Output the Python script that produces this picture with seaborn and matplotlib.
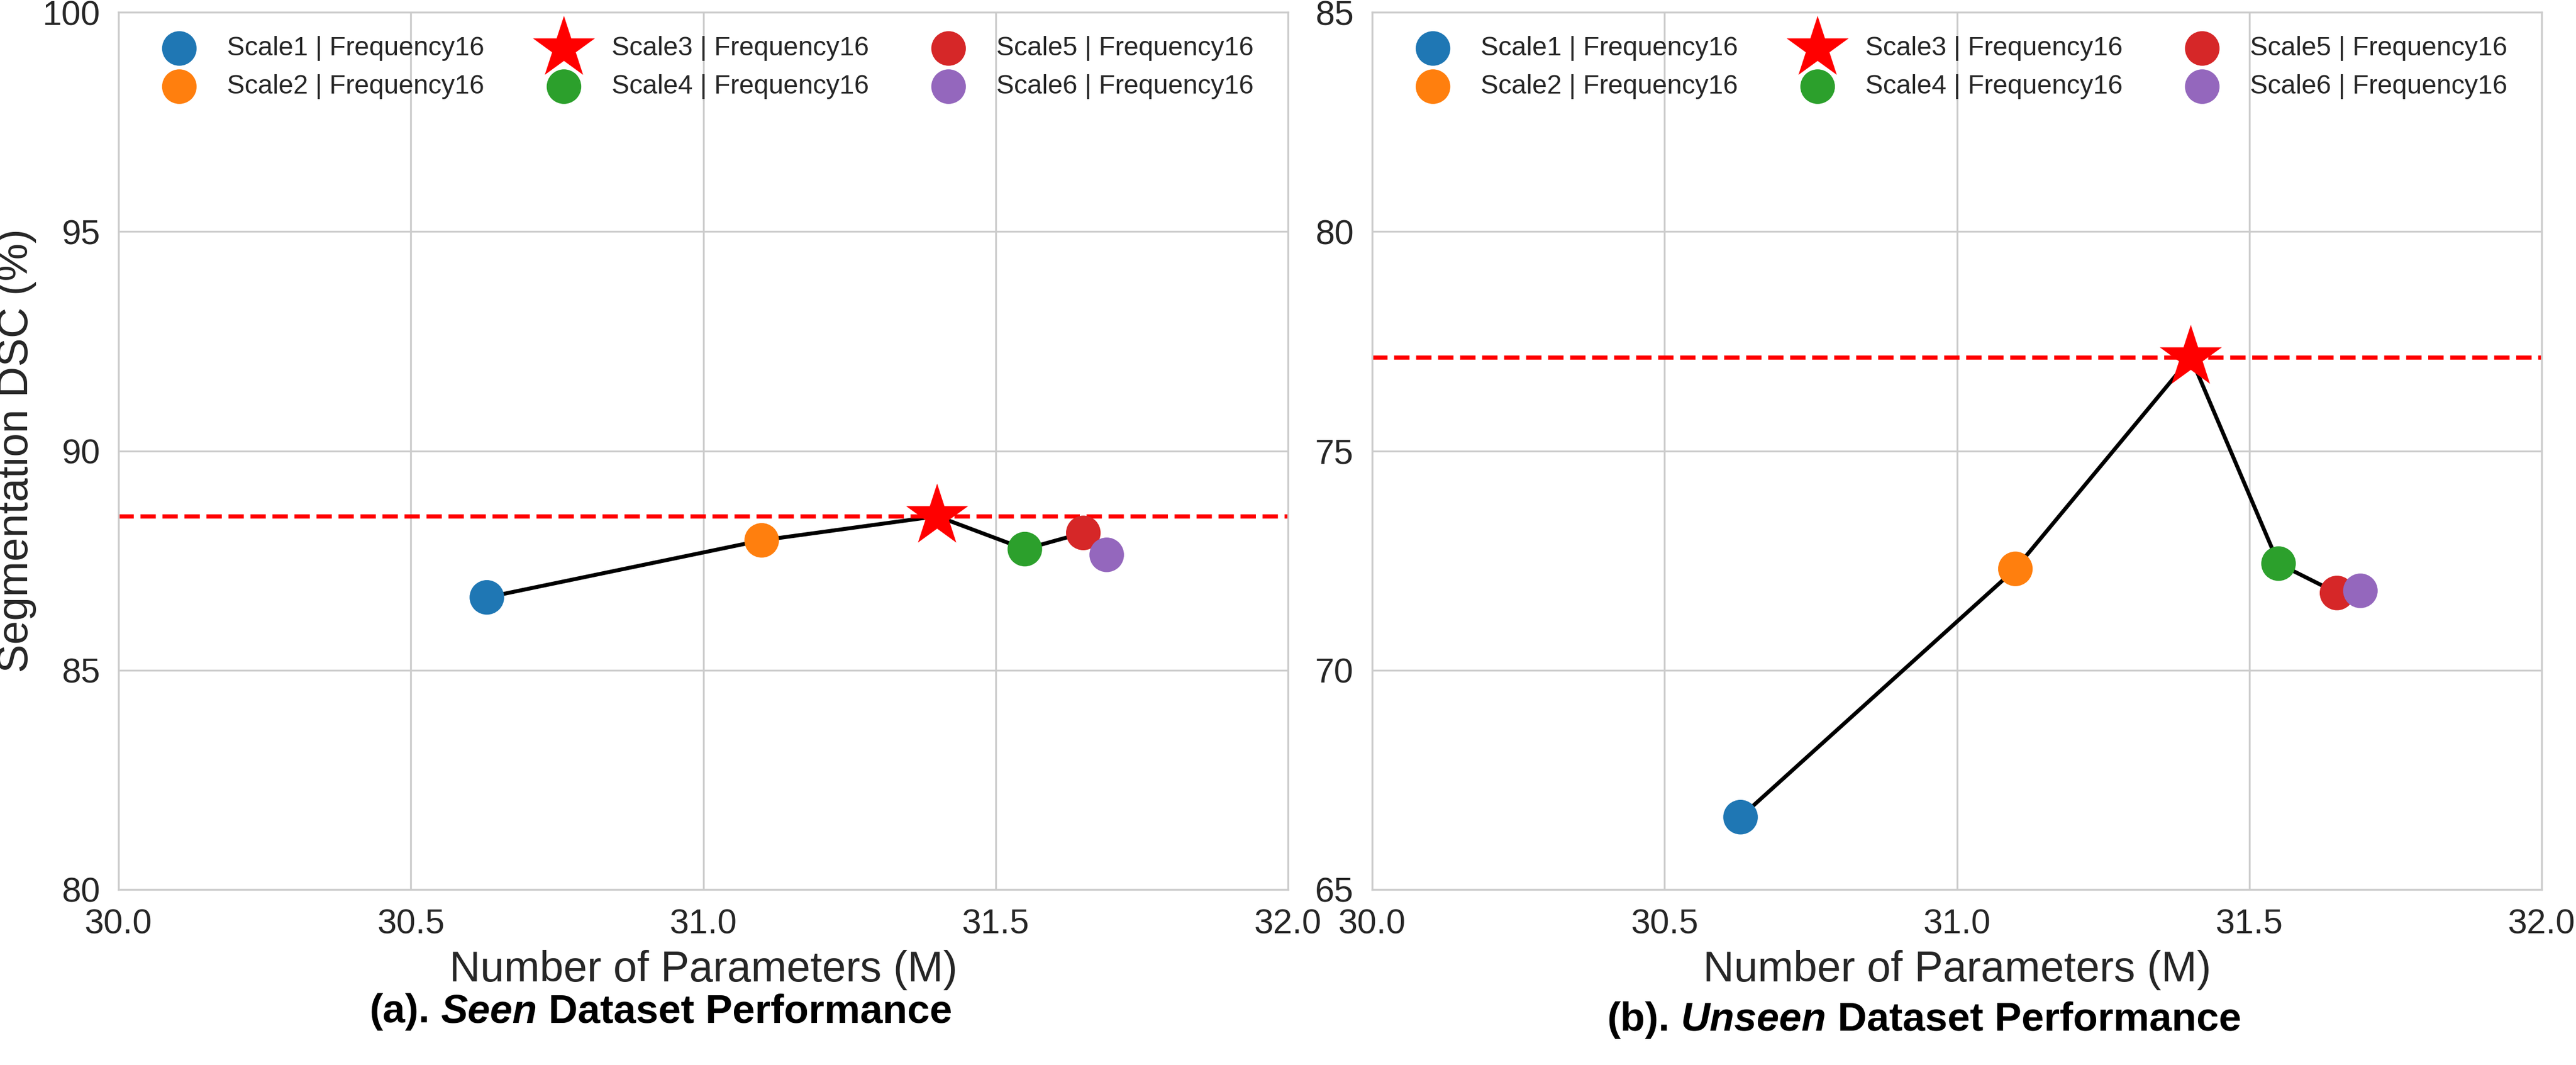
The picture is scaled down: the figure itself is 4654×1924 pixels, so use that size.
import numpy as np
import pandas as pd
import matplotlib
matplotlib.use("Agg")
import matplotlib.pyplot as plt
import seaborn as sns

# ---------------- data ----------------
labels = ["Scale1 | Frequency16", "Scale2 | Frequency16", "Scale3 | Frequency16",
          "Scale4 | Frequency16", "Scale5 | Frequency16", "Scale6 | Frequency16"]
params_m = [30.63, 31.10, 31.40, 31.55, 31.65, 31.69]
seen_dsc = [86.66, 87.96, 88.51, 87.76, 88.13, 87.63]
unseen_dsc = [66.65, 72.31, 77.13, 72.43, 71.76, 71.81]
colors = ["#1f77b4", "#ff7f0e", "red", "#2ca02c", "#d62728", "#9467bd"]
markers = ["o", "o", "*", "o", "o", "o"]
best_idx = 2

x_ticks = [30.0, 30.5, 31.0, 31.5, 32.0]
seen_yticks = [80, 85, 90, 95, 100]
unseen_yticks = [65, 70, 75, 80, 85]

panel_titles = [[("(a).", "normal"), ("Seen", "italic"), ("Dataset Performance", "normal")],
                [("(b).", "normal"), ("Unseen", "italic"), ("Dataset Performance", "normal")]]

# ---------------- style ----------------
sns.set_style("whitegrid")
plt.rcParams["font.family"] = ["Liberation Sans", "DejaVu Sans"]

W, H = 4654, 1924
DPI = 300
fig = plt.figure(figsize=(W / DPI, H / DPI), dpi=DPI)

def px_axes(l, t, r, b):
    return [l / W, 1 - b / H, (r - l) / W, (b - t) / H]

ax1 = fig.add_axes(px_axes(214, 22, 2327, 1607))
ax2 = fig.add_axes(px_axes(2479, 22, 4592, 1607))

def draw_panel(ax, yvals, yticks):
    df = pd.DataFrame({"x": params_m, "y": yvals, "label": labels})
    sns.lineplot(data=df, x="x", y="y", color="black", linewidth=1.7,
                 sort=False, estimator=None, ax=ax, zorder=2)
    ax.axhline(yvals[best_idx], color="red", linestyle="--", linewidth=1.8, zorder=2.5)
    for i in range(len(labels)):
        s = 800 if markers[i] == "*" else 225
        sns.scatterplot(x=[params_m[i]], y=[yvals[i]], color=colors[i], marker=markers[i],
                        s=s, linewidth=0, edgecolor="none", label=labels[i],
                        ax=ax, zorder=3)
    ax.set_xlim(30.0, 32.0)
    ax.set_ylim(yticks[0], yticks[-1])
    ax.set_xticks(x_ticks)
    ax.set_xticklabels([f"{v:.1f}" for v in x_ticks])
    ax.set_yticks(yticks)
    ax.tick_params(axis="both", labelsize=15, pad=4.5)
    ax.set_xlabel("Number of Parameters (M)", fontsize=18.5)
    ax.set_ylabel("")
    ax.legend(loc="upper center", ncol=3, frameon=False, fontsize=11.5, scatterpoints=1)

draw_panel(ax1, seen_dsc, seen_yticks)
draw_panel(ax2, unseen_dsc, unseen_yticks)
ax1.set_ylabel("Segmentation DSC (%)", fontsize=18.5)
ax1.yaxis.set_label_coords((66 - 214) / (2327 - 214), 0.5)

# ---------------- bottom captions (mixed bold / bold italic) ----------------
fig.canvas.draw()
renderer = fig.canvas.get_renderer()
title_fs = 17.5
space_px = 0.278 * title_fs * DPI / 72.0

def draw_caption(parts, x_px, base_px):
    x = x_px
    for txt, style in parts:
        t = fig.text(x / W, 1 - base_px / H, txt, fontsize=title_fs, fontweight="bold",
                     fontstyle=style, ha="left", va="baseline", color="black")
        bb = t.get_window_extent(renderer)
        x += bb.width + space_px

draw_caption(panel_titles[0], 667, 1847)
draw_caption(panel_titles[1], 2903, 1862)

fig.savefig("out.png", dpi=DPI)
